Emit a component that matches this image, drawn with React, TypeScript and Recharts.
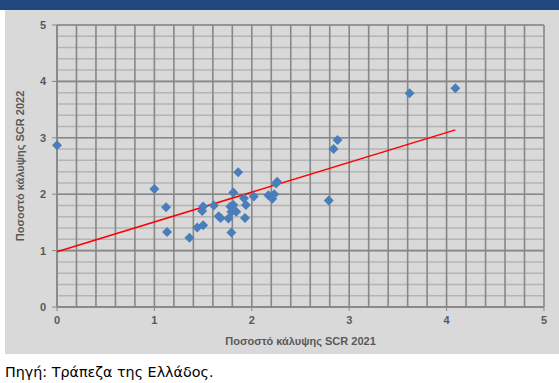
import {
  ScatterChart,
  Scatter,
  XAxis,
  YAxis,
  CartesianGrid,
} from "recharts";

// SCR coverage ratio per insurer: 2021 (x) vs 2022 (y)
const coverage2021 = [
  0, 1.0, 1.12, 1.13, 1.36, 1.44, 1.5, 1.5, 1.49, 1.61, 1.66, 1.68, 1.76, 1.79,
  1.78, 1.81, 1.81, 1.79, 1.84, 1.86, 1.92, 1.94, 1.93, 2.02, 2.17, 2.21, 2.23,
  2.25, 2.26, 2.79, 2.84, 2.88, 3.62, 4.09,
];
const coverage2022 = [
  2.87, 2.09, 1.77, 1.33, 1.23, 1.41, 1.45, 1.78, 1.7, 1.8, 1.61, 1.58, 1.57,
  1.32, 1.78, 1.81, 2.03, 1.69, 1.69, 2.39, 1.93, 1.81, 1.58, 1.96, 1.98, 1.92,
  2.0, 2.19, 2.22, 1.89, 2.8, 2.96, 3.79, 3.88,
];

// linear trend line endpoints
const trendX = [0, 4.09];
const trendY = [0.98, 3.14];

const axisMax = 5;
const axisTicks = [0, 1, 2, 3, 4, 5];
const minorTicks = [
  0, 0.2, 0.4, 0.6, 0.8, 1, 1.2, 1.4, 1.6, 1.8, 2, 2.2, 2.4, 2.6, 2.8, 3, 3.2,
  3.4, 3.6, 3.8, 4, 4.2, 4.4, 4.6, 4.8, 5,
];

const points = coverage2021.map((x, i) => ({ x, y: coverage2022[i] }));
const trend = trendX.map((x, i) => ({ x, y: trendY[i] }));

const labelFont = "'Liberation Sans', Arial, sans-serif";
const textGray = "#595959";

const Diamond = (props: any) => {
  const { cx, cy } = props;
  const r = 5;
  return (
    <polygon
      points={`${cx},${cy - r} ${cx + r},${cy} ${cx},${cy + r} ${cx - r},${cy}`}
      fill="#4a7ebb"
    />
  );
};

// grid positions on the 0..5 value axes
const toX = (offset: any, v: number) =>
  offset.left + (offset.width * v) / axisMax;
const toY = (offset: any, v: number) =>
  offset.top + offset.height - (offset.height * v) / axisMax;

export default function App() {
  const tickStyle = {
    fill: textGray,
    fontSize: 11,
    fontWeight: 700,
    fontFamily: labelFont,
  };

  return (
    <div
      style={{
        position: "absolute",
        left: 0,
        top: 0,
        width: 559,
        height: 383,
        background: "#ffffff",
      }}
    >
      <div
        style={{
          position: "absolute",
          left: 0,
          top: 0,
          width: 559,
          height: 10,
          background: "#1f497d",
        }}
      />
      <div
        style={{
          position: "absolute",
          left: 5,
          top: 10,
          width: 554,
          height: 344,
          background: "#d9d9d9",
        }}
      >
        <ScatterChart
          width={554}
          height={344}
          margin={{ top: 15, right: 15, left: 0, bottom: 0 }}
        >
          {/* light minor horizontal lines */}
          <CartesianGrid
            vertical={false}
            stroke="#b4b4b4"
            strokeWidth={1.5}
            horizontalCoordinatesGenerator={({ offset }: any) =>
              minorTicks.map((v) => toY(offset, v))
            }
          />
          {/* dark vertical lines and whole-number horizontal lines */}
          <CartesianGrid
            stroke="#878787"
            strokeWidth={1.6}
            verticalCoordinatesGenerator={({ offset }: any) =>
              minorTicks.map((v) => toX(offset, v))
            }
            horizontalCoordinatesGenerator={({ offset }: any) =>
              axisTicks.map((v) => toY(offset, v))
            }
          />
          <XAxis
            type="number"
            dataKey="x"
            domain={[0, axisMax]}
            ticks={axisTicks}
            interval={0}
            height={47}
            tickSize={4}
            tickMargin={5}
            axisLine={{ stroke: "#878787", strokeWidth: 1.5 }}
            tickLine={{ stroke: "#878787" }}
            tick={tickStyle}
            label={{
              content: ({ viewBox }: any) => (
                <text
                  x={viewBox.x + viewBox.width / 2}
                  y={viewBox.y + 38}
                  textAnchor="middle"
                  fill={textGray}
                  fontSize={11}
                  fontWeight={700}
                  fontFamily={labelFont}
                >
                  Ποσοστό κάλυψης SCR 2021
                </text>
              ),
            }}
          />
          <YAxis
            type="number"
            dataKey="y"
            domain={[0, axisMax]}
            ticks={axisTicks}
            interval={0}
            width={52}
            tickSize={5}
            tickMargin={6}
            axisLine={{ stroke: "#878787", strokeWidth: 1.5 }}
            tickLine={{ stroke: "#878787" }}
            tick={tickStyle}
            label={{
              content: ({ viewBox }: any) => {
                const cx = viewBox.x + 15;
                const cy = viewBox.y + viewBox.height / 2;
                return (
                  <text
                    x={cx}
                    y={cy}
                    transform={`rotate(-90 ${cx} ${cy})`}
                    textAnchor="middle"
                    dominantBaseline="central"
                    fill={textGray}
                    fontSize={11}
                    fontWeight={700}
                    fontFamily={labelFont}
                  >
                    Ποσοστό κάλυψης SCR 2022
                  </text>
                );
              },
            }}
          />
          <Scatter
            data={trend}
            line={{ stroke: "#ff0000", strokeWidth: 1.5 }}
            lineType="joint"
            shape={() => null}
            isAnimationActive={false}
          />
          <Scatter data={points} shape={Diamond} isAnimationActive={false} />
        </ScatterChart>
      </div>
      <div
        style={{
          position: "absolute",
          left: 5,
          top: 364,
          fontFamily: "'DejaVu Sans', sans-serif",
          fontSize: 14.3,
          lineHeight: "16px",
          color: "#000000",
          whiteSpace: "nowrap",
        }}
      >
        Πηγή: Τράπεζα της Ελλάδος.
      </div>
    </div>
  );
}
